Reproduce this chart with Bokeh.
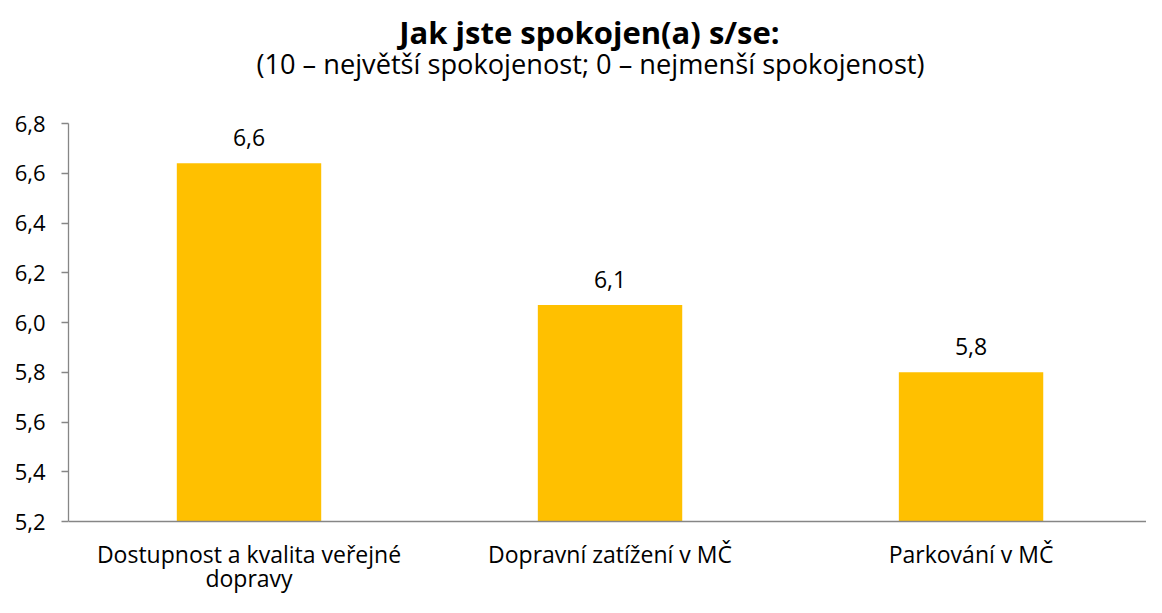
from bokeh.plotting import figure
from bokeh.models import FixedTicker, CustomJSTickFormatter, ColumnDataSource, Range1d, Span
from bokeh.core.properties import value
from bokeh.embed import file_html
from bokeh.resources import INLINE

title = "Jak jste spokojen(a) s/se:"
subtitle = "(10 – největší spokojenost; 0 – nejmenší spokojenost)"
categories = ["Dostupnost a kvalita veřejné\ndopravy", "Dopravní zatížení v MČ", "Parkování v MČ"]
values = [6.64, 6.07, 5.80]
value_labels = ["6,6", "6,1", "5,8"]
y_ticks = [5.2, 5.4, 5.6, 5.8, 6.0, 6.2, 6.4, 6.6, 6.8]

FONT = "Open Sans"
positions = list(range(len(categories)))
y_min, y_max = y_ticks[0], y_ticks[-1]

# layout (pixels)
W, H = 1146, 597
LEFT = 68
TOP = 123          # pixels above the 6.8 line
AXIS_H = 398       # pixels between 5.2 and 6.8
BOTTOM = H - TOP - AXIS_H
upp = (y_max - y_min) / AXIS_H
x_start, x_end = -0.5, 2.486

src = ColumnDataSource(dict(x=positions, top=values, lab=value_labels))
line1 = [c.split("\n")[0] for c in categories]
line2 = [c.split("\n")[1] if "\n" in c else "" for c in categories]
cat_src = ColumnDataSource(dict(x=positions, y=[y_min] * len(positions), l1=line1, l2=line2))

p = figure(frame_width=W - LEFT, frame_height=H, output_backend="svg", toolbar_location=None,
           x_range=Range1d(x_start, x_end),
           y_range=Range1d(y_min - BOTTOM * upp, y_max + TOP * upp),
           min_border_left=LEFT, min_border_right=0, min_border_top=0, min_border_bottom=0)
p.outline_line_color = None
p.grid.visible = False
p.xaxis.visible = False

p.vbar(x="x", top="top", bottom=y_min, width=0.40, source=src,
       fill_color="#FFC000", line_color=None)
p.text(x="x", y="top", text="lab", source=src, text_align="center", text_baseline="alphabetic",
       y_offset=-26, text_font=value(FONT), text_font_size="23px", text_color="#000000")

# category labels under the axis
p.text(x="x", y="y", text="l1", source=cat_src, text_align="center", text_baseline="alphabetic",
       y_offset=32, text_font=value(FONT), text_font_size="23px", text_color="#000000")
p.text(x="x", y="y", text="l2", source=cat_src, text_align="center", text_baseline="alphabetic",
       y_offset=56, text_font=value(FONT), text_font_size="23px", text_color="#000000")

# titles
xc = (x_start + x_end) / 2
p.text(x=[xc], y=[y_max], text=[title], text_align="center", text_baseline="alphabetic",
       x_offset=-18, y_offset=-92, text_font=value(FONT), text_font_size="31px",
       text_font_style="bold", text_color="#000000")
p.text(x=[xc], y=[y_max], text=[subtitle], text_align="center", text_baseline="alphabetic",
       x_offset=-17, y_offset=-60, text_font=value(FONT), text_font_size="27.2px",
       text_color="#000000")

# x axis line
p.add_layout(Span(location=y_min, dimension="width", line_color="#868686", line_width=1.3))

p.yaxis.bounds = (y_min, y_max)
p.yaxis.ticker = FixedTicker(ticks=y_ticks)
p.yaxis.formatter = CustomJSTickFormatter(code="return tick.toFixed(1).replace('.', ',');")
p.yaxis.axis_line_color = "#868686"
p.yaxis.axis_line_width = 1.3
p.yaxis.major_tick_line_color = "#868686"
p.yaxis.major_tick_line_width = 1.3
p.yaxis.major_tick_out = 7
p.yaxis.major_tick_in = 0
p.yaxis.minor_tick_line_color = None
p.yaxis.major_label_text_font = FONT
p.yaxis.major_label_text_font_size = "22px"
p.yaxis.major_label_text_color = "#000000"
p.yaxis.major_label_standoff = 16

open("out.html", "w").write(file_html(p, INLINE))
